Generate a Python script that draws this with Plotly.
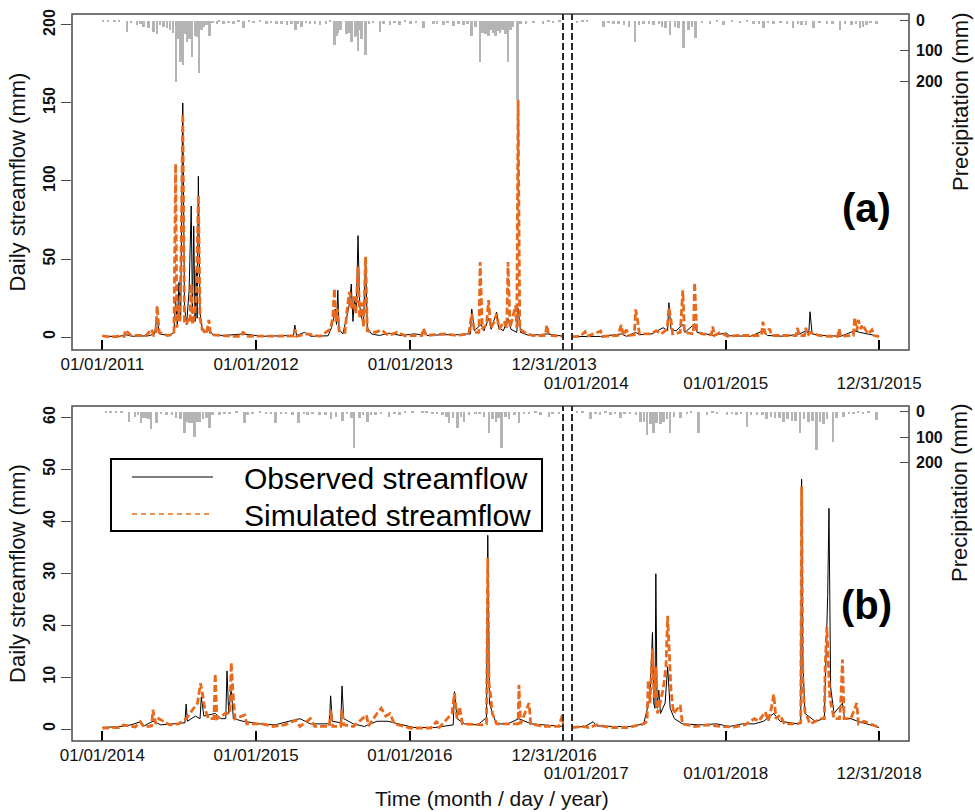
import plotly.graph_objects as go

# ---------------- DATA ----------------
# Panel (a): calibration 2011-2013, validation 2014-2015
a_cal_obs_dates = ["2011-01-01","2011-02-10","2011-02-25","2011-03-15","2011-04-20","2011-05-05","2011-05-11","2011-05-16",
    "2011-06-10","2011-06-20","2011-06-24","2011-06-28","2011-07-02","2011-07-06","2011-07-11","2011-07-15","2011-07-20",
    "2011-07-26","2011-07-31","2011-08-03","2011-08-06","2011-08-09","2011-08-12","2011-08-14","2011-08-17","2011-08-21",
    "2011-08-26","2011-09-05","2011-09-12","2011-09-20","2011-10-15","2011-12-01","2012-01-15","2012-03-01","2012-04-02",
    "2012-04-06","2012-04-25","2012-05-10","2012-06-20","2012-06-28","2012-07-03","2012-07-07","2012-07-10","2012-07-13",
    "2012-07-16","2012-07-25","2012-08-05","2012-08-10","2012-08-14","2012-08-18","2012-08-22","2012-08-26","2012-08-30",
    "2012-09-03","2012-09-08","2012-09-12","2012-09-17","2012-09-21","2012-10-01","2012-10-20","2012-11-10","2012-12-10",
    "2013-01-10","2013-02-01","2013-02-10","2013-03-20","2013-04-25","2013-05-15","2013-05-27","2013-06-02","2013-06-18",
    "2013-06-25","2013-07-06","2013-07-12","2013-07-25","2013-07-30","2013-08-10","2013-08-21","2013-08-28","2013-09-14",
    "2013-09-20","2013-10-10","2013-11-21","2013-12-31",
    "2012-03-30","2013-01-29","2013-05-24","2013-09-11"]
a_cal_obs = [0.5,0.4,1.5,0.5,0.8,2,13,2,
    1,3,24,8,35,12,150,20,8,
    30,84,15,71,10,43,12,103,15,
    6,3,5,1.5,1,2,0.5,0.8,7.7,
    1,3,0.5,0.8,6,12,18,8,30,
    5,2,15,22,34,10,25,18,65,
    20,12,8,50,6,2,1,2.5,1,
    2,4,1,1.5,1.5,2,18,4,8,
    4,12,5,16,6,4,12,5,18.5,
    3,1,2,0.5,
    1,1.5,2,3]

a_cal_sim_dates = ["2011-01-01","2011-01-20","2011-02-10","2011-02-25","2011-03-10","2011-04-15","2011-04-28","2011-05-03",
    "2011-05-11","2011-05-16","2011-06-05","2011-06-20","2011-06-24","2011-06-27","2011-06-30","2011-07-04","2011-07-07",
    "2011-07-11","2011-07-15","2011-07-20","2011-07-24","2011-07-28","2011-07-31","2011-08-03","2011-08-08","2011-08-12",
    "2011-08-17","2011-08-21","2011-08-26","2011-09-05","2011-09-11","2011-09-15","2011-10-10","2011-11-01","2011-12-01",
    "2011-12-08","2012-01-20","2012-03-05","2012-04-02","2012-04-06","2012-05-01","2012-06-01","2012-06-25","2012-07-01",
    "2012-07-05","2012-07-08","2012-07-12","2012-07-16","2012-07-30","2012-08-05","2012-08-10","2012-08-14","2012-08-20",
    "2012-08-25","2012-08-30","2012-09-03","2012-09-08","2012-09-12","2012-09-17","2012-09-21","2012-10-10","2012-10-25",
    "2012-11-10","2012-12-01","2012-12-20","2013-01-20","2013-02-01","2013-02-08","2013-03-25","2013-04-20","2013-05-20",
    "2013-05-27","2013-06-03","2013-06-16","2013-06-21","2013-07-01","2013-07-06","2013-07-11","2013-07-20","2013-07-25",
    "2013-07-31","2013-08-12","2013-08-21","2013-08-26","2013-09-08","2013-09-14","2013-09-18","2013-10-05","2013-10-20",
    "2013-11-21","2013-11-26","2013-12-31",
    "2011-02-22","2011-05-08","2011-11-28","2012-03-30","2013-01-29","2013-06-13","2013-08-18","2013-09-11","2013-11-18"]
a_cal_sim = [0.8,0,0.5,4.5,1,1,5,1,
    20,3,1,2,111,6,20,10,55,
    143,10,8,12,10,34,8,15,25,
    91,12,5,2,11,1.5,1,0.5,3.4,
    0.5,0.5,0.7,5,0.5,2,0.5,5,12,
    31,10,18,4,3,20,29,18,26,
    15,45,12,22,6,51.5,4,3,4.5,
    1,3,0.8,1,5.5,1,2,1,2,
    15,3,48,5,8,23.7,6,10,15,
    5,10,48,6,20,152,5,2,1,
    7.7,1,0.5,
    0.5,1.5,0.5,0.7,1,3,6,6,1]

a_val_obs_dates = ["2014-01-01","2014-02-01","2014-03-10","2014-04-28","2014-05-10","2014-06-01","2014-06-10","2014-07-10",
    "2014-07-25","2014-08-05","2014-08-19","2014-08-24","2014-09-05","2014-09-21","2014-09-26","2014-10-19","2014-10-25",
    "2014-11-15","2014-12-01","2015-01-02","2015-01-10","2015-03-01","2015-03-30","2015-04-10","2015-05-20","2015-06-25",
    "2015-07-10","2015-07-20","2015-07-25","2015-08-20","2015-10-01","2015-11-03","2015-11-15","2015-12-10","2015-12-31",
    "2014-08-16","2015-07-17"]
a_val_obs = [0.3,0.5,0.4,2,0.5,3,1.5,2,
    4,6,22,5,4,8,3,8.5,3,
    2,1,2.6,0.8,0.5,4,1,0.5,2,
    4,16.2,2,1,0.5,4,3,1.5,0.5,
    4,2]

a_val_sim_dates = ["2014-01-01","2014-01-20","2014-02-01","2014-02-05","2014-03-10","2014-03-14","2014-04-20","2014-04-28",
    "2014-05-03","2014-05-10","2014-05-15","2014-06-01","2014-06-05","2014-06-10","2014-07-05","2014-07-20","2014-08-01",
    "2014-08-15","2014-08-19","2014-08-24","2014-08-28","2014-09-15","2014-09-21","2014-09-25","2014-10-10","2014-10-19",
    "2014-10-24","2014-11-05","2014-12-01","2014-12-05","2014-12-20","2015-01-05","2015-02-01","2015-03-10","2015-03-30",
    "2015-04-05","2015-04-15","2015-04-20","2015-05-20","2015-06-20","2015-06-25","2015-07-10","2015-07-14","2015-07-21",
    "2015-08-10","2015-09-01","2015-09-27","2015-10-01","2015-10-20","2015-11-03","2015-11-08","2015-11-12","2015-11-18",
    "2015-11-21","2015-12-05","2015-12-14","2015-12-20","2015-12-31",
    "2014-05-29","2014-10-16","2014-11-28","2015-03-27","2015-06-17","2015-07-07","2015-09-24","2015-10-31"]
a_val_sim = [0.3,0.5,3.4,0.4,3.8,0.4,1,7.7,
    1,4.7,1,17.7,12,2,2,4,2,
    5,19,10.7,2,3,30,3,2,35,
    4,2,6.8,1,3,0.5,1,1,9.8,
    2,5.3,1,1,5.8,1,6,1,3,
    1,0.5,5.3,0.5,1,12.6,4,11,5,
    8,2,4.7,1,0.3,
    1.5,2,1.5,1,1,1,0.5,1]

a_cal_p_dates = ["2011-01-03","2011-01-15","2011-01-30","2011-02-10","2011-02-28","2011-03-10","2011-03-24","2011-04-01",
    "2011-04-09","2011-04-21","2011-05-03","2011-05-11","2011-05-18","2011-05-26","2011-06-03","2011-06-11","2011-06-18",
    "2011-06-25","2011-07-01","2011-07-05","2011-07-11","2011-07-16","2011-07-21","2011-07-27","2011-08-02","2011-08-09",
    "2011-08-14","2011-08-19","2011-08-25","2011-08-30","2011-09-05","2011-09-12","2011-09-20","2011-09-30","2011-10-05",
    "2011-10-16","2011-10-28","2011-11-08","2011-11-20","2011-12-02","2011-12-15","2011-12-26","2012-01-10","2012-01-26",
    "2012-02-05","2012-02-19","2012-03-01","2012-03-14","2012-03-25","2012-04-03","2012-04-10","2012-04-18","2012-04-28",
    "2012-05-08","2012-05-20","2012-06-01","2012-06-15","2012-06-25","2012-07-05","2012-07-10","2012-07-14","2012-07-20",
    "2012-08-03","2012-08-08","2012-08-15","2012-08-23","2012-08-27","2012-08-30","2012-09-03","2012-09-07","2012-09-17",
    "2012-09-25","2012-10-05","2012-10-21","2012-10-30","2012-11-14","2012-11-25","2012-12-07","2012-12-20","2013-01-01",
    "2013-01-15","2013-02-01","2013-02-25","2013-03-05","2013-03-21","2013-03-30","2013-04-14","2013-04-25","2013-05-07",
    "2013-05-17","2013-05-27","2013-06-05","2013-06-16","2013-06-22","2013-06-28","2013-07-02","2013-07-06","2013-07-12",
    "2013-07-18","2013-07-22","2013-07-28","2013-08-02","2013-08-08","2013-08-15","2013-08-21","2013-08-27","2013-09-02",
    "2013-09-12","2013-09-20","2013-10-03","2013-10-20","2013-11-12","2013-11-25","2013-12-06","2013-12-21"]
a_cal_p = [5,6,5,6,36,8,14,10,
    20,25,36,44,15,20,25,30,40,
    202,60,136,146,45,70,60,119,50,
    55,174,30,20,15,50,8,10,6,
    12,8,10,6,25,5,8,5,10,
    8,12,10,15,12,30,10,20,8,
    12,10,15,12,6,80,50,40,30,
    45,40,69,55,50,102,30,60,113,
    12,8,36,10,15,8,15,6,12,
    8,25,12,10,15,8,18,10,15,
    12,52,20,136,40,45,45,52,30,
    40,50,35,40,30,45,136,30,20,
    263,10,10,8,10,6,8,5]

a_val_p_dates = ["2014-01-12","2014-01-25","2014-02-05","2014-03-16","2014-03-28","2014-04-09","2014-04-20","2014-05-03",
    "2014-05-15","2014-05-30","2014-06-08","2014-06-19","2014-07-02","2014-07-13","2014-07-25","2014-08-02","2014-08-10",
    "2014-08-21","2014-09-01","2014-09-10","2014-09-22","2014-10-04","2014-10-12","2014-10-20","2014-11-05","2014-11-24",
    "2014-12-10","2014-12-26","2015-01-15","2015-02-03","2015-02-20","2015-03-07","2015-03-20","2015-03-30","2015-04-10",
    "2015-04-23","2015-05-10","2015-05-25","2015-06-09","2015-06-20","2015-06-29","2015-07-10","2015-07-27","2015-08-10",
    "2015-08-28","2015-09-10","2015-09-28","2015-10-10","2015-10-26","2015-11-05","2015-11-15","2015-11-22","2015-11-30",
    "2015-12-10","2015-12-24"]
a_val_p = [8,5,5,20,8,10,10,15,
    20,69,15,12,10,15,12,20,25,
    47,20,25,91,30,20,58,8,10,
    6,15,5,8,6,10,10,25,8,
    12,8,10,25,12,15,15,25,8,
    10,10,30,12,15,10,25,20,15,
    8,10]

# Panel (b): calibration 2014-2016, validation 2017-2018
b_cal_obs_dates = ["2014-01-01","2014-02-15","2014-03-10","2014-04-01","2014-04-10","2014-05-01","2014-05-20","2014-06-25",
    "2014-07-19","2014-07-22","2014-08-10","2014-08-24","2014-08-30","2014-09-26","2014-10-10","2014-10-24","2014-10-28",
    "2014-11-03","2014-11-08","2014-12-01","2015-01-10","2015-02-15","2015-03-20","2015-04-15","2015-05-10","2015-06-27",
    "2015-07-01","2015-07-24","2015-07-28","2015-08-20","2015-09-15","2015-10-15","2015-11-10","2015-12-05","2016-01-10",
    "2016-03-01","2016-04-16","2016-04-22","2016-05-10","2016-06-10","2016-06-28","2016-07-04","2016-07-08","2016-07-15",
    "2016-07-25","2016-08-20","2016-09-16","2016-10-15","2016-11-20","2016-12-31",
    "2014-07-16","2014-08-21","2014-10-21","2015-06-24","2015-07-21","2016-04-13","2016-07-01"]
b_cal_obs = [0.3,0.5,0.8,1.4,0.6,1.5,0.8,1,
    4.8,1.5,2.5,6.2,2.5,3,2,11.2,3,
    8,2,1.5,1,0.8,1.5,2,1,6.4,
    1.5,8.3,2,1,0.5,1.5,1.5,1,0.3,
    0.3,7.2,2,1,0.8,2,37.3,5,3,
    1,1,2,1,0.8,0.5,
    1.2,2,2,1,1.2,0.8,2]

b_cal_sim_dates = ["2014-01-01","2014-02-10","2014-02-20","2014-03-20","2014-04-01","2014-04-10","2014-05-01","2014-05-08",
    "2014-05-15","2014-06-10","2014-07-01","2014-07-19","2014-08-05","2014-08-15","2014-08-22","2014-08-26","2014-09-01",
    "2014-09-10","2014-09-26","2014-09-30","2014-10-20","2014-11-03","2014-11-07","2014-11-12","2014-12-05","2014-12-10",
    "2015-01-15","2015-02-10","2015-03-10","2015-04-05","2015-04-15","2015-05-10","2015-05-20","2015-06-27","2015-07-02",
    "2015-07-24","2015-07-28","2015-08-20","2015-09-20","2015-09-25","2015-10-15","2015-10-25","2015-11-05","2015-11-15",
    "2015-11-25","2016-01-01","2016-02-20","2016-03-05","2016-03-10","2016-04-10","2016-04-16","2016-04-22","2016-04-28",
    "2016-05-05","2016-06-20","2016-07-04","2016-07-07","2016-07-10","2016-07-15","2016-07-25","2016-09-10","2016-09-16",
    "2016-09-20","2016-10-10","2016-10-14","2016-11-15","2016-12-20","2016-12-28","2016-12-31",
    "2014-04-28","2014-09-23","2014-10-31","2015-06-24","2015-07-21","2016-07-01","2016-09-14"]
b_cal_sim = [0.2,0.3,0.8,0.4,1.4,0.4,3.7,1,
    2,0.8,1,2,4,5,8.8,7.2,4,
    2,10.7,2,3,12.8,7.2,2,2.7,1,
    1,0.5,0.8,1.7,0.5,2,0.5,3.7,0.5,
    3.7,0.8,0.5,2.7,0.6,3,4,2.5,3,
    1,0.2,0.2,1.5,0.2,3,6.9,2,4.3,
    1,0.8,33,8.8,6.9,3,1,1,8.5,
    1,5,1,0.5,0.5,2.7,0.5,
    0.6,2,3,0.5,0.5,1,1]

b_val_obs_dates = ["2017-01-01","2017-02-01","2017-02-20","2017-03-01","2017-04-10","2017-05-20","2017-06-20","2017-07-05",
    "2017-07-11","2017-07-14","2017-07-19","2017-07-22","2017-07-26","2017-07-30","2017-08-10","2017-08-16","2017-08-22",
    "2017-09-01","2017-09-20","2017-11-01","2017-12-10","2018-01-10","2018-02-10","2018-03-10","2018-04-01","2018-04-25",
    "2018-05-10","2018-06-20","2018-06-30","2018-07-03","2018-07-08","2018-08-01","2018-08-25","2018-08-31","2018-09-03",
    "2018-09-07","2018-09-15","2018-10-05","2018-10-10","2018-10-25","2018-11-10","2018-12-31",
    "2017-07-17","2018-06-28","2018-08-23"]
b_val_obs = [0.3,0.5,1.4,0.6,0.5,0.5,1,6,
    18.6,5,29.9,4,7.5,3,5,12,4,
    2,1,0.8,1,0.5,1,1,1.5,3,
    1.5,1,48.1,13,3,1.5,8,25.7,42.5,
    8,3,5,2,2,1.5,0.3,
    4,1.2,2]

b_val_sim_dates = ["2017-01-01","2017-01-25","2017-02-10","2017-03-01","2017-04-01","2017-05-15","2017-06-20","2017-07-01",
    "2017-07-05","2017-07-11","2017-07-15","2017-07-19","2017-07-23","2017-08-05","2017-08-12","2017-08-16","2017-08-20",
    "2017-08-24","2017-08-30","2017-09-15","2017-09-20","2017-10-20","2017-11-20","2017-12-20","2018-01-20","2018-02-15",
    "2018-03-10","2018-03-20","2018-04-05","2018-04-12","2018-04-18","2018-04-25","2018-04-30","2018-05-10","2018-05-20",
    "2018-06-20","2018-06-30","2018-07-03","2018-07-08","2018-07-20","2018-08-15","2018-08-25","2018-08-29","2018-09-01",
    "2018-09-05","2018-09-15","2018-10-01","2018-10-05","2018-10-09","2018-10-25","2018-11-08","2018-11-12","2018-11-25",
    "2018-12-31",
    "2017-06-28","2018-06-28","2018-08-23","2018-09-28"]
b_val_sim = [0.3,0.5,0.3,0.8,0.3,0.3,1,9.4,
    5,15.5,6,12,3,7.5,12,21.8,14.6,
    7.5,3,4.6,1,0.5,0.8,0.5,0.4,0.8,
    2,1.5,3.3,1.5,3.5,6.7,2,2.7,1,
    1,46.7,8,3.3,1,2,12,19.7,14,
    6,2,5,13.4,2,2,5,1,1.5,
    0.3,
    1.5,1.2,2,2]

b_cal_p_dates = ["2014-01-10","2014-01-20","2014-02-03","2014-02-15","2014-03-05","2014-03-19","2014-03-27","2014-04-03",
    "2014-04-09","2014-04-15","2014-04-21","2014-04-27","2014-05-09","2014-05-20","2014-06-02","2014-06-15","2014-06-25",
    "2014-07-05","2014-07-15","2014-07-21","2014-07-27","2014-08-02","2014-08-08","2014-08-14","2014-08-20","2014-08-28",
    "2014-09-05","2014-09-12","2014-09-20","2014-10-06","2014-10-18","2014-10-30","2014-11-15","2014-12-04","2014-12-12",
    "2014-12-24","2015-01-10","2015-01-25","2015-02-05","2015-02-16","2015-03-01","2015-03-13","2015-03-28","2015-04-12",
    "2015-04-25","2015-05-03","2015-05-15","2015-05-31","2015-06-15","2015-06-28","2015-07-10","2015-07-25","2015-08-05",
    "2015-08-15","2015-08-22","2015-09-03","2015-09-12","2015-09-23","2015-10-01","2015-10-12","2015-10-25","2015-11-13",
    "2015-11-25","2015-12-07","2015-12-20","2016-01-07","2016-01-31","2016-02-10","2016-02-24","2016-03-05","2016-03-18",
    "2016-03-28","2016-04-03","2016-04-13","2016-04-23","2016-05-01","2016-05-09","2016-05-20","2016-06-05","2016-06-15",
    "2016-06-25","2016-07-07","2016-07-15","2016-07-23","2016-07-30","2016-08-06","2016-08-15","2016-08-23","2016-09-05",
    "2016-09-16","2016-09-28","2016-10-10","2016-10-25","2016-11-06","2016-11-26","2016-12-05","2016-12-20"]
b_cal_p = [4,4,4,5,39,20,15,46,
    25,25,30,69,46,10,15,12,25,
    30,82,40,45,45,98,40,40,30,
    25,65,15,15,8,10,6,46,12,
    10,5,8,10,46,8,10,12,46,
    10,15,8,15,12,30,20,35,10,
    25,144,25,15,39,12,15,10,20,
    8,15,6,4,4,5,10,10,15,
    20,46,25,65,20,40,12,10,8,
    20,85,30,40,25,144,20,30,12,
    46,10,8,6,15,20,8,10]

b_val_p_dates = ["2017-01-12","2017-01-25","2017-02-13","2017-02-25","2017-03-08","2017-03-20","2017-04-01","2017-04-12",
    "2017-04-25","2017-05-05","2017-05-18","2017-06-01","2017-06-11","2017-06-20","2017-06-27","2017-07-05","2017-07-13",
    "2017-07-20","2017-07-29","2017-08-05","2017-08-13","2017-08-21","2017-08-30","2017-09-14","2017-09-30","2017-10-10",
    "2017-10-27","2017-11-16","2017-11-30","2017-12-10","2018-01-03","2018-01-15","2018-01-26","2018-02-05","2018-02-19",
    "2018-03-01","2018-03-15","2018-03-28","2018-04-07","2018-04-17","2018-04-27","2018-05-07","2018-05-17","2018-05-27",
    "2018-06-06","2018-06-15","2018-06-25","2018-07-05","2018-07-15","2018-07-25","2018-08-04","2018-08-12","2018-08-20",
    "2018-08-28","2018-09-12","2018-09-20","2018-10-06","2018-10-20","2018-10-30","2018-11-10","2018-11-22","2018-12-05",
    "2018-12-24"]
b_val_p = [4,5,30,8,12,6,12,8,
    25,10,8,15,40,40,91,50,85,
    45,50,40,30,85,20,25,10,6,
    85,12,6,8,12,8,15,10,59,
    12,15,15,30,20,25,25,40,30,
    35,35,82,30,40,35,150,40,50,
    30,118,25,20,8,8,6,8,6,
    32]

# Axis ticks
a_cal_tickvals = ["2011-01-01", "2012-01-01", "2013-01-01", "2013-12-31"]
a_cal_ticktext = ["01/01/2011", "01/01/2012", "01/01/2013", "12/31/2013"]
a_val_tickvals = ["2014-01-01", "2015-01-01", "2015-12-31"]
a_val_ticktext = ["01/01/2014", "01/01/2015", "12/31/2015"]
b_cal_tickvals = ["2014-01-01", "2015-01-01", "2016-01-01", "2016-12-31"]
b_cal_ticktext = ["01/01/2014", "01/01/2015", "01/01/2016", "12/31/2016"]
b_val_tickvals = ["2017-01-01", "2018-01-01", "2018-12-31"]
b_val_ticktext = ["01/01/2017", "01/01/2018", "12/31/2018"]
a_flow_ticks = [0, 50, 100, 150, 200]
b_flow_ticks = [0, 10, 20, 30, 40, 50, 60]
precip_ticks = [0, 100, 200]

# ---------------- STYLE / LAYOUT ----------------
W, H = 975, 812
def px(x):
    return x / W
def py(y):
    return 1 - y / H

FONT = "Liberation Sans, Arial, Helvetica, sans-serif"
ORANGE = "#E8691C"
GREY = "#B4B4B4"
FRAME = "#4A4A4A"
NB = "\u00a0"
DAY_MS = 86400000

fig = go.Figure()

def by_date(dates, vals):
    pairs = sorted(zip(dates, vals))
    return [p[0] for p in pairs], [p[1] for p in pairs]

def add_period(xa, ya_flow, ya_p, pdates, pvals, odates, ovals, sdates, svals):
    od, ov = by_date(odates, ovals)
    sd, sv = by_date(sdates, svals)
    fig.add_trace(go.Scatter(x=od, y=ov, mode="lines", name="Observed streamflow",
                             line=dict(color="black", width=1), xaxis=xa, yaxis=ya_flow, showlegend=False))
    fig.add_trace(go.Scatter(x=sd, y=sv, mode="lines", name="Simulated streamflow",
                             line=dict(color=ORANGE, width=2.8, dash="7px,3px"), xaxis=xa, yaxis=ya_flow,
                             showlegend=False))
    fig.add_trace(go.Bar(x=pdates, y=pvals, name="Precipitation", marker=dict(color=GREY, line=dict(width=0)),
                         width=[6 * DAY_MS] * len(pvals), xaxis=xa, yaxis=ya_p, showlegend=False))

add_period("x", "y", "y2", a_cal_p_dates, a_cal_p, a_cal_obs_dates, a_cal_obs, a_cal_sim_dates, a_cal_sim)
add_period("x2", "y", "y2", a_val_p_dates, a_val_p, a_val_obs_dates, a_val_obs, a_val_sim_dates, a_val_sim)
add_period("x3", "y3", "y4", b_cal_p_dates, b_cal_p, b_cal_obs_dates, b_cal_obs, b_cal_sim_dates, b_cal_sim)
add_period("x4", "y3", "y4", b_val_p_dates, b_val_p, b_val_obs_dates, b_val_obs, b_val_sim_dates, b_val_sim)

XL, XG1, XG2, XR = 72, 564, 571.6, 909
A_TOP, A_BOT = 14, 350
B_TOP, B_BOT = 406, 741

def xaxis_cfg(dom, rng, anchor, tv, tt, standoff):
    return dict(domain=dom, range=rng, type="date", anchor=anchor, tickmode="array", tickvals=tv, ticktext=tt,
                ticks="inside", ticklen=10, tickwidth=2, tickcolor="black", showline=False, showgrid=False,
                zeroline=False, automargin=False, ticklabelstandoff=standoff,
                tickfont=dict(family=FONT, size=17, color="#111111"))

def yflow_cfg(dom, rng, anchor, tv):
    return dict(domain=dom, range=rng, anchor=anchor, tickmode="array", tickvals=tv, ticks="outside",
                ticklen=10, tickwidth=1, tickcolor=FRAME, tickangle=-90, showline=False, showgrid=False,
                zeroline=False, automargin=False,
                tickfont=dict(family=FONT, size=16, color="#111111", weight="bold"),
                title=dict(text="Daily streamflow (mm)", font=dict(family=FONT, size=22, color="#111111"),
                           standoff=8))

def yprec_cfg(over, rng, anchor):
    return dict(overlaying=over, side="right", range=rng, anchor=anchor, tickmode="array", tickvals=precip_ticks,
                ticks="inside", ticklen=9, tickwidth=1, tickcolor=FRAME, showline=False, showgrid=False,
                zeroline=False, automargin=False, ticklabelstandoff=6,
                tickfont=dict(family=FONT, size=16, color="#111111", weight="bold"))

a_cal_tt = a_cal_ticktext[:-1] + [a_cal_ticktext[-1] + NB * 4]
a_val_tt = [NB * 6 + a_val_ticktext[0]] + a_val_ticktext[1:]
b_cal_tt = b_cal_ticktext[:-1] + [b_cal_ticktext[-1] + NB * 4]
b_val_tt = [NB * 6 + b_val_ticktext[0]] + b_val_ticktext[1:]

fig.update_layout(
    width=W, height=H, margin=dict(l=0, r=0, t=0, b=0),
    paper_bgcolor="white", plot_bgcolor="white",
    font=dict(family=FONT, color="#111111"),
    barmode="overlay", bargap=0,
    xaxis=xaxis_cfg([px(XL), px(XG1)], ["2010-10-21", "2014-01-01"], "y", a_cal_tickvals, a_cal_tt, 2),
    xaxis2=xaxis_cfg([px(XG2), px(XR)], ["2013-12-31", "2016-03-11"], "y", a_val_tickvals, a_val_tt, 21),
    xaxis3=xaxis_cfg([px(XL), px(XG1)], ["2013-10-21", "2017-01-01"], "y3", b_cal_tickvals, b_cal_tt, 2),
    xaxis4=xaxis_cfg([px(XG2), px(XR)], ["2016-12-31", "2019-03-12"], "y3", b_val_tickvals, b_val_tt, 20),
    yaxis=yflow_cfg([py(A_BOT), py(A_TOP)], [-8.3, 207], "x", a_flow_ticks),
    yaxis2=yprec_cfg("y", [1090, -22], "x2"),
    yaxis3=yflow_cfg([py(B_BOT), py(B_TOP)], [-2.3, 62.2], "x3", b_flow_ticks),
    yaxis4=yprec_cfg("y3", [1291, -22], "x4"),
)

shapes = []
for top, bot in [(A_TOP, A_BOT), (B_TOP, B_BOT)]:
    shapes.append(dict(type="rect", xref="paper", yref="paper", x0=px(XL), x1=px(XR), y0=py(bot), y1=py(top),
                       line=dict(color=FRAME, width=1.5), fillcolor="rgba(0,0,0,0)", layer="above"))
    for xx in (563, 572):
        shapes.append(dict(type="line", xref="paper", yref="paper", x0=px(xx), x1=px(xx), y0=py(bot), y1=py(top),
                           line=dict(color="#2a2a2a", width=2, dash="7px,3px"), layer="above"))
# legend box (panel b)
shapes.append(dict(type="rect", xref="paper", yref="paper", x0=px(111), x1=px(542), y0=py(531), y1=py(459),
                   line=dict(color="black", width=2), fillcolor="white", layer="above"))
shapes.append(dict(type="line", xref="paper", yref="paper", x0=px(132), x1=px(213), y0=py(477), y1=py(477),
                   line=dict(color="black", width=1), layer="above"))
shapes.append(dict(type="line", xref="paper", yref="paper", x0=px(132), x1=px(213), y0=py(514), y1=py(514),
                   line=dict(color=ORANGE, width=1.5, dash="5px,4px"), layer="above"))
fig.update_layout(shapes=shapes)

ann = []
ann.append(dict(text="Observed streamflow", x=px(242), y=py(478), xref="paper", yref="paper", xanchor="left",
                yanchor="middle", showarrow=False, font=dict(family=FONT, size=30, color="black")))
ann.append(dict(text="Simulated streamflow", x=px(242), y=py(515), xref="paper", yref="paper", xanchor="left",
                yanchor="middle", showarrow=False, font=dict(family=FONT, size=30, color="black")))
for label, cy in [("(a)", 208), ("(b)", 605)]:
    ann.append(dict(text=label, x=px(866), y=py(cy), xref="paper", yref="paper", xanchor="center", yanchor="middle",
                    showarrow=False, font=dict(family=FONT, size=40, color="black", weight="bold")))
for cy in (102, 493):
    ann.append(dict(text="Precipitation (mm)", x=px(960), y=py(cy), xref="paper", yref="paper", xanchor="center",
                    yanchor="middle", textangle=-90, showarrow=False, font=dict(family=FONT, size=22, color="#111111")))
ann.append(dict(text="Time (month / day / year)", x=px(492), y=py(798), xref="paper", yref="paper",
                xanchor="center", yanchor="middle", showarrow=False, font=dict(family=FONT, size=21, color="#111111")))
fig.update_layout(annotations=ann)

fig.write_html("out.html", config={"displayModeBar": False},
               post_script="document.body.style.margin='0px';document.body.style.overflow='hidden';")
